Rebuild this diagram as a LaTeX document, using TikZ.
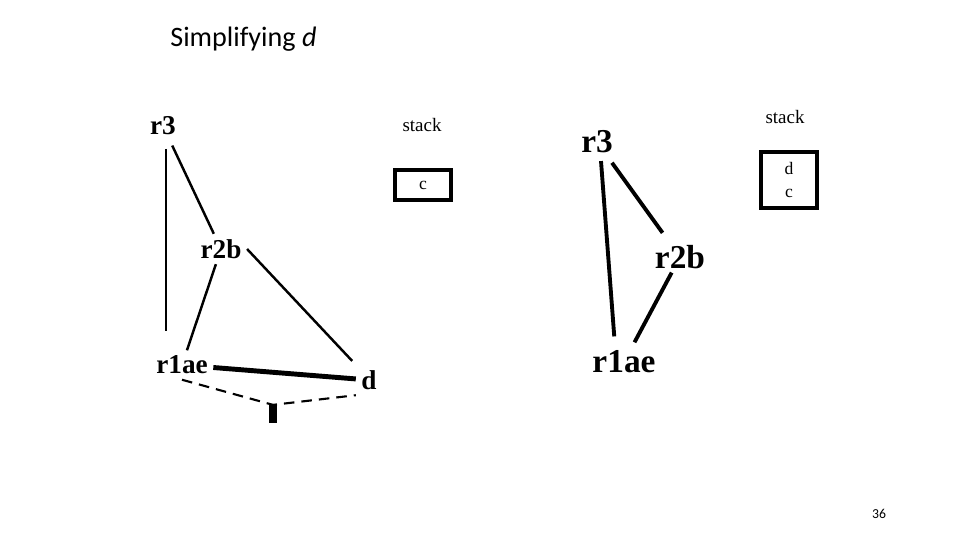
\documentclass[tikz,border=0pt]{standalone}
\usepackage{fontspec}
\setmainfont{Liberation Serif}
\newfontfamily\slidefont{Carlito}
\usetikzlibrary{positioning,calc}

\begin{document}
\begin{tikzpicture}[
  x=0.02cm, y=-0.02cm,
  vtx/.style={font=\bfseries\fontsize{15.5}{17}\selectfont, inner sep=3pt},
  bigvtx/.style={font=\bfseries\fontsize{19}{21}\selectfont, inner sep=2pt},
  edge/.style={line width=1.4pt},
  bigedge/.style={line width=2.2pt},
  stk/.style={draw, line width=1.9pt, minimum width=32pt, align=center,
    font=\fontsize{10}{13}\selectfont},
  lbl/.style={font=\fontsize{10.8}{12}\selectfont}
]
\useasboundingbox (0,0) rectangle (960,540);

% --- title and page number ---
\node[anchor=base west, inner sep=0pt, font=\slidefont\fontsize{16}{19}\selectfont]
  (title) at (170,47) {Simplifying \textit{d}};
\node[font=\slidefont\fontsize{7.8}{9}\selectfont] (page) at (879,514) {36};

% --- left graph: before removing d ---
\node[vtx] (r3)   at (163,126) {r3};
\node[vtx] (r2b)  at (221,249) {r2b};
\node[vtx] (r1ae) at (182,365) {r1ae};
\node[vtx] (d)    at (369,380) {d};
\node[fill, minimum width=4.5pt, minimum height=10pt, inner sep=0pt] (spill) at (273,414) {};

\draw[edge, shorten >=11pt] (r3.south) ++(3,8) coordinate (r3v) -- (r3v |- r1ae.north);
\draw[edge, shorten <=3pt] (r3) -- (r2b);
\draw[edge, shorten >=3pt] (r2b.east) -- (d.north west);
\draw[edge] (r2b) -- (r1ae);
\draw[line width=2.8pt] (r1ae) -- (d);
\draw[line width=1.2pt, dashed, dash pattern=on 6pt off 4pt]
  (r1ae.south) -- (spill.north) -- (d.south west);

% --- left stack ---
\node[lbl] (stackA) at (422,125) {stack};
\node[stk, minimum height=17pt] (boxA) at (423,185) {c};

% --- right graph: after removing d ---
\node[bigvtx] (R3)   at (597,142) {r3};
\node[bigvtx] (R2b)  at (680,257) {r2b};
\node[bigvtx] (R1ae) at (624,362) {r1ae};

\draw[bigedge, shorten >=6pt] (R3.south) ++(4,4) coordinate (R3v) -- ([xshift=8]R3v |- R1ae.north);
\draw[bigedge, shorten <=4pt, shorten >=6pt] (R3) -- (R2b);
\draw[bigedge, shorten >=3pt] (R2b) -- (R1ae);

% --- right stack ---
\node[lbl] (stackB) at (785,117) {stack};
\node[stk, minimum height=32pt] (boxB) at (789,180) {d\\c};
\end{tikzpicture}
\end{document}
